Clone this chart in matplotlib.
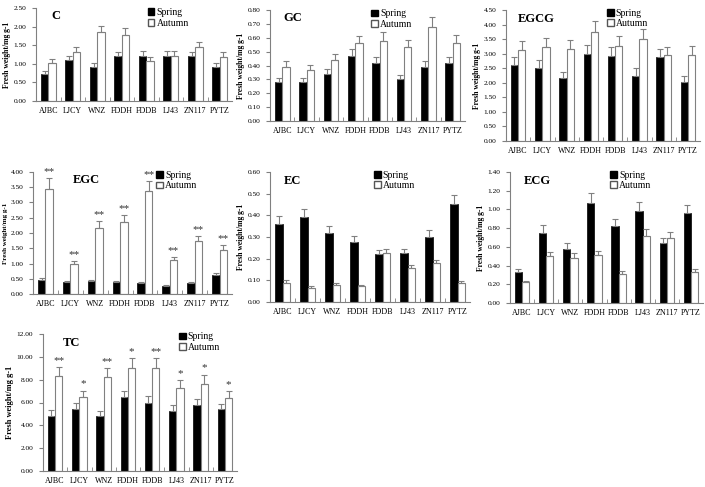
import matplotlib
matplotlib.use("Agg")
import matplotlib.pyplot as plt
from matplotlib.patches import Patch
from matplotlib.ticker import FormatStrFormatter, MultipleLocator
import numpy as np

plt.rcParams['font.family'] = ['Liberation Serif', 'DejaVu Serif']

cultivars = ['AJBC', 'LJCY', 'WNZ', 'FDDH', 'FDDB', 'LJ43', 'ZN117', 'PYTZ']

# catechin contents (mg/g fresh weight), mean and SD
c_spring = [0.73, 1.10, 0.92, 1.20, 1.22, 1.22, 1.20, 0.92]
c_spring_err = [0.08, 0.10, 0.09, 0.12, 0.13, 0.12, 0.11, 0.09]
c_autumn = [1.02, 1.33, 1.85, 1.78, 1.07, 1.22, 1.45, 1.18]
c_autumn_err = [0.10, 0.13, 0.17, 0.18, 0.10, 0.12, 0.13, 0.13]

gc_spring = [0.28, 0.28, 0.34, 0.47, 0.42, 0.30, 0.39, 0.42]
gc_spring_err = [0.03, 0.03, 0.035, 0.05, 0.04, 0.03, 0.04, 0.04]
gc_autumn = [0.39, 0.37, 0.44, 0.56, 0.58, 0.53, 0.68, 0.56]
gc_autumn_err = [0.04, 0.035, 0.045, 0.055, 0.06, 0.055, 0.07, 0.06]

egcg_spring = [2.60, 2.52, 2.17, 3.00, 2.93, 2.25, 2.87, 2.03]
egcg_spring_err = [0.27, 0.26, 0.20, 0.30, 0.29, 0.25, 0.29, 0.20]
egcg_autumn = [3.12, 3.22, 3.15, 3.75, 3.28, 3.50, 2.95, 2.97]
egcg_autumn_err = [0.32, 0.32, 0.32, 0.38, 0.32, 0.35, 0.29, 0.30]

egc_spring = [0.47, 0.38, 0.42, 0.38, 0.36, 0.26, 0.36, 0.62]
egc_spring_err = [0.04, 0.03, 0.04, 0.03, 0.04, 0.02, 0.02, 0.06]
egc_autumn = [3.45, 0.97, 2.18, 2.35, 3.37, 1.10, 1.73, 1.45]
egc_autumn_err = [0.35, 0.10, 0.22, 0.23, 0.33, 0.12, 0.18, 0.15]
egc_sig = ['**'] * 8

ec_spring = [0.36, 0.39, 0.32, 0.275, 0.22, 0.225, 0.30, 0.45]
ec_spring_err = [0.035, 0.04, 0.03, 0.03, 0.02, 0.02, 0.03, 0.045]
ec_autumn = [0.09, 0.065, 0.08, 0.072, 0.225, 0.158, 0.178, 0.088]
ec_autumn_err = [0.01, 0.007, 0.008, 0.008, 0.02, 0.015, 0.018, 0.008]

ecg_spring = [0.33, 0.75, 0.58, 1.07, 0.82, 0.98, 0.64, 0.96]
ecg_spring_err = [0.03, 0.08, 0.06, 0.11, 0.08, 0.10, 0.06, 0.09]
ecg_autumn = [0.22, 0.50, 0.48, 0.51, 0.31, 0.72, 0.69, 0.33]
ecg_autumn_err = [0.02, 0.05, 0.05, 0.05, 0.03, 0.07, 0.07, 0.03]

tc_spring = [4.8, 5.45, 4.8, 6.45, 6.0, 5.25, 5.8, 5.4]
tc_spring_err = [0.5, 0.55, 0.45, 0.6, 0.6, 0.55, 0.55, 0.5]
tc_autumn = [8.3, 6.45, 8.2, 9.0, 9.0, 7.25, 7.65, 6.4]
tc_autumn_err = [0.8, 0.6, 0.8, 0.9, 0.9, 0.7, 0.8, 0.6]
tc_sig = ['**', '*', '**', '*', '**', '*', '*', '*']

W, H = 705, 487
fig = plt.figure(figsize=(W / 100, H / 100), dpi=100)


def panel(box, title, spring, s_err, autumn, a_err, ymax, step, sig=None,
          leg_x=0.55, title_x=0.1, ylab_size=5.5):
    x0, y0, x1, y1 = box
    ax = fig.add_axes([x0 / W, 1 - y1 / H, (x1 - x0) / W, (y1 - y0) / H])
    x = np.arange(len(cultivars))
    bw = 0.3
    ax.bar(x - bw / 2, spring, bw, color='black', edgecolor='black', linewidth=0.5)
    ax.bar(x + bw / 2, autumn, bw, color='white', edgecolor='#808080', linewidth=0.8)
    ax.errorbar(x - bw / 2, spring, yerr=[np.zeros(len(x)), s_err], fmt='none',
                ecolor='#808080', elinewidth=0.8, capsize=2.5, capthick=0.8)
    ax.errorbar(x + bw / 2, autumn, yerr=[np.zeros(len(x)), a_err], fmt='none',
                ecolor='#808080', elinewidth=0.8, capsize=2.5, capthick=0.8)
    if sig:
        for xi, v, e, s in zip(x, autumn, a_err, sig):
            ax.text(xi + bw / 2, v + e + ymax * 0.015, s, ha='center', va='bottom',
                    fontsize=8, color='#333333')
    ax.set_xlim(-0.5, len(x) - 0.5)
    ax.set_ylim(0, ymax)
    ax.yaxis.set_major_locator(MultipleLocator(step))
    ax.yaxis.set_major_formatter(FormatStrFormatter('%.2f'))
    ax.set_xticks(x)
    ax.set_xticklabels(cultivars)
    ax.set_xticks(np.arange(0.5, len(x) - 0.5), minor=True)
    ax.tick_params(axis='x', which='major', length=0, labelsize=5.8, pad=4)
    ax.tick_params(axis='x', which='minor', length=3, direction='in', color='#808080')
    ax.tick_params(axis='y', length=3, direction='out', labelsize=5.3, pad=4, color='#808080')
    for side in ['top', 'right']:
        ax.spines[side].set_visible(False)
    for side in ['left', 'bottom']:
        ax.spines[side].set_color('#808080')
        ax.spines[side].set_linewidth(0.8)
    ax.set_ylabel('Fresh weight/mg g-1', fontsize=ylab_size, fontweight='bold', labelpad=2)
    ax.text(title_x, 0.98, title, transform=ax.transAxes, fontsize=9, fontweight='bold',
            va='top', ha='left')
    handles = [Patch(facecolor='black', edgecolor='black', label='Spring'),
               Patch(facecolor='white', edgecolor='#555555', label='Autumn')]
    ax.legend(handles=handles, loc='upper left', bbox_to_anchor=(leg_x, 1.04), frameon=False,
              fontsize=7, handlelength=0.7, handleheight=0.7, handletextpad=0.2,
              labelspacing=0.15, borderaxespad=0)
    return ax


panel((36, 8, 232, 101), 'C', c_spring, c_spring_err, c_autumn, c_autumn_err, 2.5, 0.5,
      leg_x=0.55, title_x=0.08)
panel((270, 10, 465, 121), 'GC', gc_spring, gc_spring_err, gc_autumn, gc_autumn_err, 0.8, 0.1,
      leg_x=0.5, title_x=0.07)
panel((506, 10, 700, 141), 'EGCG', egcg_spring, egcg_spring_err, egcg_autumn, egcg_autumn_err,
      4.5, 0.5, leg_x=0.5, title_x=0.06)
panel((33, 172, 232, 294), 'EGC', egc_spring, egc_spring_err, egc_autumn, egc_autumn_err,
      4.0, 0.5, sig=egc_sig, leg_x=0.6, title_x=0.2, ylab_size=5)
panel((270, 172, 470, 302), 'EC', ec_spring, ec_spring_err, ec_autumn, ec_autumn_err,
      0.6, 0.1, leg_x=0.5, title_x=0.07)
panel((510, 172, 703, 303), 'ECG', ecg_spring, ecg_spring_err, ecg_autumn, ecg_autumn_err,
      1.4, 0.2, leg_x=0.5, title_x=0.07)
panel((43, 334, 237, 471), 'TC', tc_spring, tc_spring_err, tc_autumn, tc_autumn_err,
      12.0, 2.0, sig=tc_sig, leg_x=0.68, title_x=0.1, ylab_size=6)

fig.savefig('out.png', dpi=100)
